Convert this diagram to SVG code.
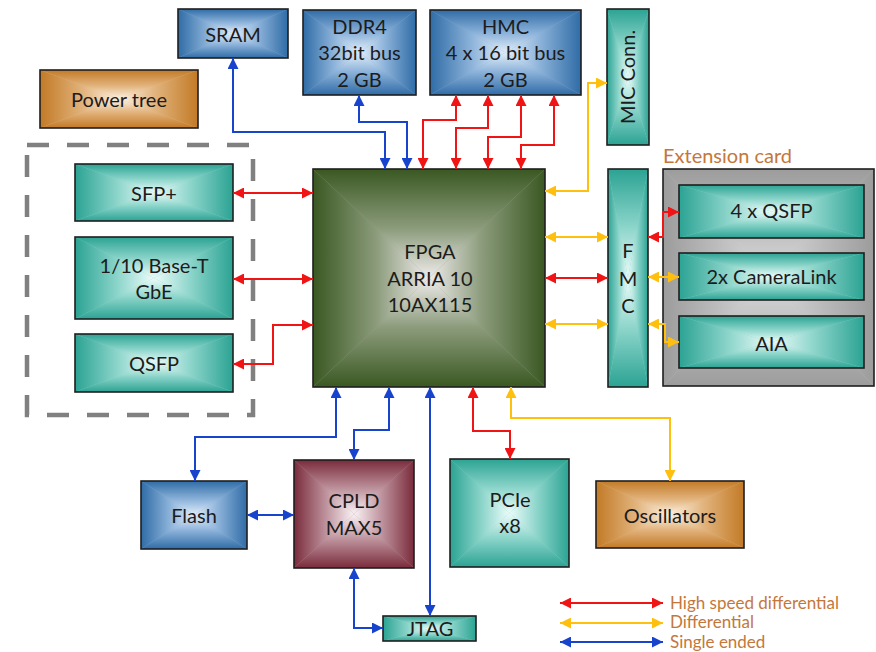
<svg xmlns="http://www.w3.org/2000/svg" width="876" height="652" viewBox="0 0 876 652">
<style>
.t{font-family:Lato,"Open Sans","DejaVu Sans",sans-serif;font-size:20px;fill:#1c1c1c;text-anchor:middle}
.lg{font-family:Lato,"Open Sans","DejaVu Sans",sans-serif;font-size:17px;fill:#c4773c}
.bd{fill:none;stroke:#1e1e1e;stroke-width:1.6}
.c{fill:none;stroke-width:2}
.r{stroke:#f01414;marker-start:url(#mr);marker-end:url(#mr)}
.y{stroke:#ffbf0f;marker-start:url(#my);marker-end:url(#my)}
.b{stroke:#1843cc;marker-start:url(#mb);marker-end:url(#mb)}
</style>
<defs>
<marker id="mr" viewBox="0 0 10 10" refX="10" refY="5" markerWidth="11" markerHeight="11" markerUnits="userSpaceOnUse" orient="auto-start-reverse"><path d="M0,0 L10,5 L0,10 z" fill="#f01414"/></marker>
<marker id="my" viewBox="0 0 10 10" refX="10" refY="5" markerWidth="11" markerHeight="11" markerUnits="userSpaceOnUse" orient="auto-start-reverse"><path d="M0,0 L10,5 L0,10 z" fill="#ffbf0f"/></marker>
<marker id="mb" viewBox="0 0 10 10" refX="10" refY="5" markerWidth="11" markerHeight="11" markerUnits="userSpaceOnUse" orient="auto-start-reverse"><path d="M0,0 L10,5 L0,10 z" fill="#1843cc"/></marker>
<!-- teal -->
<linearGradient id="teT" x1="0" y1="0" x2="0" y2="1"><stop offset="0" stop-color="#2ba393"/><stop offset="0.55" stop-color="#8fd6cc"/><stop offset="1" stop-color="#ecfcfa"/></linearGradient>
<linearGradient id="teB" href="#teT" x1="0" y1="1" x2="0" y2="0"/>
<linearGradient id="teL" href="#teT" x1="0" y1="0" x2="1" y2="0"/>
<linearGradient id="teR" href="#teT" x1="1" y1="0" x2="0" y2="0"/>
<!-- blue -->
<linearGradient id="blT" x1="0" y1="0" x2="0" y2="1"><stop offset="0" stop-color="#2f6ca6"/><stop offset="0.55" stop-color="#8db3da"/><stop offset="1" stop-color="#e2eefa"/></linearGradient>
<linearGradient id="blB" href="#blT" x1="0" y1="1" x2="0" y2="0"/>
<linearGradient id="blL" href="#blT" x1="0" y1="0" x2="1" y2="0"/>
<linearGradient id="blR" href="#blT" x1="1" y1="0" x2="0" y2="0"/>
<!-- green -->
<linearGradient id="grT" x1="0" y1="0" x2="0" y2="1"><stop offset="0" stop-color="#3a5822"/><stop offset="0.55" stop-color="#8c9c7c"/><stop offset="1" stop-color="#f0ecec"/></linearGradient>
<linearGradient id="grB" href="#grT" x1="0" y1="1" x2="0" y2="0"/>
<linearGradient id="grL" href="#grT" x1="0" y1="0" x2="1" y2="0"/>
<linearGradient id="grR" href="#grT" x1="1" y1="0" x2="0" y2="0"/>
<!-- maroon -->
<linearGradient id="maT" x1="0" y1="0" x2="0" y2="1"><stop offset="0" stop-color="#7a2b3b"/><stop offset="0.55" stop-color="#c096a0"/><stop offset="1" stop-color="#f9f2f4"/></linearGradient>
<linearGradient id="maB" href="#maT" x1="0" y1="1" x2="0" y2="0"/>
<linearGradient id="maL" href="#maT" x1="0" y1="0" x2="1" y2="0"/>
<linearGradient id="maR" href="#maT" x1="1" y1="0" x2="0" y2="0"/>
<!-- orange -->
<linearGradient id="orT" x1="0" y1="0" x2="0" y2="1"><stop offset="0" stop-color="#c27a26"/><stop offset="0.55" stop-color="#e2b47e"/><stop offset="1" stop-color="#fdf2e4"/></linearGradient>
<linearGradient id="orB" href="#orT" x1="0" y1="1" x2="0" y2="0"/>
<linearGradient id="orL" href="#orT" x1="0" y1="0" x2="1" y2="0"/>
<linearGradient id="orR" href="#orT" x1="1" y1="0" x2="0" y2="0"/>
<!-- gray -->
<linearGradient id="gyT" x1="0" y1="0" x2="0" y2="1"><stop offset="0" stop-color="#9c9c9c"/><stop offset="1" stop-color="#dadada"/></linearGradient>
<linearGradient id="gyB" href="#gyT" x1="0" y1="1" x2="0" y2="0"/>
<linearGradient id="gyL" href="#gyT" x1="0" y1="0" x2="1" y2="0"/>
<linearGradient id="gyR" href="#gyT" x1="1" y1="0" x2="0" y2="0"/>
</defs>
<rect width="876" height="652" fill="#ffffff"/>

<!-- dashed group -->
<rect id="ethernet-group" x="27" y="145" width="226" height="270" fill="none" stroke="#808080" stroke-width="4.5" stroke-dasharray="22 18"/>

<!-- extension card -->
<g id="extension-card">
<rect x="663" y="169" width="211" height="217" fill="#bbbbbb"/>
<polygon points="663,169 874,169 768.5,277.5" fill="url(#gyT)"/>
<polygon points="874,169 874,386 768.5,277.5" fill="url(#gyR)"/>
<polygon points="663,386 874,386 768.5,277.5" fill="url(#gyB)"/>
<polygon points="663,169 663,386 768.5,277.5" fill="url(#gyL)"/>
<rect class="bd" x="663" y="169" width="211" height="217"/>
<text class="lg" x="663" y="163" style="font-size:20px">Extension card</text>
</g>

<g id="sram">
<rect x="178" y="9" width="110" height="49" fill="#85abd0"/>
<polygon points="178,9 288,9 233,33.5" fill="url(#blT)"/>
<polygon points="288,9 288,58 233,33.5" fill="url(#blR)"/>
<polygon points="178,58 288,58 233,33.5" fill="url(#blB)"/>
<polygon points="178,9 178,58 233,33.5" fill="url(#blL)"/>
<rect class="bd" x="178" y="9" width="110" height="49"/>
<text class="t" x="233" y="42">SRAM</text>
</g>

<g id="power-tree">
<rect x="40" y="70" width="158" height="58" fill="#dfb582"/>
<polygon points="40,70 198,70 119,99" fill="url(#orT)"/>
<polygon points="198,70 198,128 119,99" fill="url(#orR)"/>
<polygon points="40,128 198,128 119,99" fill="url(#orB)"/>
<polygon points="40,70 40,128 119,99" fill="url(#orL)"/>
<rect class="bd" x="40" y="70" width="158" height="58"/>
<text class="t" x="119" y="107">Power tree</text>
</g>

<g id="ddr4">
<rect x="303" y="10" width="113" height="85" fill="#85abd0"/>
<polygon points="303,10 416,10 359.5,52.5" fill="url(#blT)"/>
<polygon points="416,10 416,95 359.5,52.5" fill="url(#blR)"/>
<polygon points="303,95 416,95 359.5,52.5" fill="url(#blB)"/>
<polygon points="303,10 303,95 359.5,52.5" fill="url(#blL)"/>
<rect class="bd" x="303" y="10" width="113" height="85"/>
<text class="t" x="359.5" y="34">DDR4</text>
<text class="t" x="359.5" y="60">32bit bus</text>
<text class="t" x="359.5" y="87">2 GB</text>
</g>

<g id="hmc">
<rect x="430" y="10" width="151" height="85" fill="#85abd0"/>
<polygon points="430,10 581,10 505.5,52.5" fill="url(#blT)"/>
<polygon points="581,10 581,95 505.5,52.5" fill="url(#blR)"/>
<polygon points="430,95 581,95 505.5,52.5" fill="url(#blB)"/>
<polygon points="430,10 430,95 505.5,52.5" fill="url(#blL)"/>
<rect class="bd" x="430" y="10" width="151" height="85"/>
<text class="t" x="505.5" y="34">HMC</text>
<text class="t" x="505.5" y="60">4 x 16 bit bus</text>
<text class="t" x="505.5" y="87">2 GB</text>
</g>

<g id="mic-conn">
<rect x="607" y="9" width="42" height="136" fill="#8ad0c6"/>
<polygon points="607,9 649,9 628,77" fill="url(#teT)"/>
<polygon points="649,9 649,145 628,77" fill="url(#teR)"/>
<polygon points="607,145 649,145 628,77" fill="url(#teB)"/>
<polygon points="607,9 607,145 628,77" fill="url(#teL)"/>
<rect class="bd" x="607" y="9" width="42" height="136"/>
<text class="t" x="0" y="0" transform="translate(635,77) rotate(-90)">MIC Conn.</text>
</g>

<g id="sfp-plus">
<rect x="75" y="164" width="158" height="57" fill="#8ad0c6"/>
<polygon points="75,164 233,164 154,192.5" fill="url(#teT)"/>
<polygon points="233,164 233,221 154,192.5" fill="url(#teR)"/>
<polygon points="75,221 233,221 154,192.5" fill="url(#teB)"/>
<polygon points="75,164 75,221 154,192.5" fill="url(#teL)"/>
<rect class="bd" x="75" y="164" width="158" height="57"/>
<text class="t" x="154" y="201">SFP+</text>
</g>

<g id="base-t">
<rect x="75" y="237" width="158" height="82" fill="#8ad0c6"/>
<polygon points="75,237 233,237 154,278" fill="url(#teT)"/>
<polygon points="233,237 233,319 154,278" fill="url(#teR)"/>
<polygon points="75,319 233,319 154,278" fill="url(#teB)"/>
<polygon points="75,237 75,319 154,278" fill="url(#teL)"/>
<rect class="bd" x="75" y="237" width="158" height="82"/>
<text class="t" x="154" y="273">1/10 Base-T</text>
<text class="t" x="154" y="299">GbE</text>
</g>

<g id="qsfp">
<rect x="75" y="334" width="158" height="58" fill="#8ad0c6"/>
<polygon points="75,334 233,334 154,363" fill="url(#teT)"/>
<polygon points="233,334 233,392 154,363" fill="url(#teR)"/>
<polygon points="75,392 233,392 154,363" fill="url(#teB)"/>
<polygon points="75,334 75,392 154,363" fill="url(#teL)"/>
<rect class="bd" x="75" y="334" width="158" height="58"/>
<text class="t" x="154" y="371">QSFP</text>
</g>

<g id="fpga">
<rect x="313" y="169" width="232" height="218" fill="#93a385"/>
<polygon points="313,169 545,169 429,278" fill="url(#grT)"/>
<polygon points="545,169 545,387 429,278" fill="url(#grR)"/>
<polygon points="313,387 545,387 429,278" fill="url(#grB)"/>
<polygon points="313,169 313,387 429,278" fill="url(#grL)"/>
<rect class="bd" x="313" y="169" width="232" height="218"/>
<text class="t" x="430" y="259">FPGA</text>
<text class="t" x="430" y="286">ARRIA 10</text>
<text class="t" x="430" y="312">10AX115</text>
</g>

<g id="fmc">
<rect x="608" y="169" width="40" height="218" fill="#8ad0c6"/>
<polygon points="608,169 648,169 628,278" fill="url(#teT)"/>
<polygon points="648,169 648,387 628,278" fill="url(#teR)"/>
<polygon points="608,387 648,387 628,278" fill="url(#teB)"/>
<polygon points="608,169 608,387 628,278" fill="url(#teL)"/>
<rect class="bd" x="608" y="169" width="40" height="218"/>
<text class="t" x="628" y="258">F</text>
<text class="t" x="628" y="286">M</text>
<text class="t" x="628" y="313">C</text>
</g>

<g id="qsfp4">
<rect x="679" y="185" width="185" height="53" fill="#8ad0c6"/>
<polygon points="679,185 864,185 771.5,211.5" fill="url(#teT)"/>
<polygon points="864,185 864,238 771.5,211.5" fill="url(#teR)"/>
<polygon points="679,238 864,238 771.5,211.5" fill="url(#teB)"/>
<polygon points="679,185 679,238 771.5,211.5" fill="url(#teL)"/>
<rect class="bd" x="679" y="185" width="185" height="53"/>
<text class="t" x="771.5" y="218">4 x QSFP</text>
</g>

<g id="cameralink">
<rect x="679" y="253" width="185" height="47" fill="#8ad0c6"/>
<polygon points="679,253 864,253 771.5,276.5" fill="url(#teT)"/>
<polygon points="864,253 864,300 771.5,276.5" fill="url(#teR)"/>
<polygon points="679,300 864,300 771.5,276.5" fill="url(#teB)"/>
<polygon points="679,253 679,300 771.5,276.5" fill="url(#teL)"/>
<rect class="bd" x="679" y="253" width="185" height="47"/>
<text class="t" x="771.5" y="284">2x CameraLink</text>
</g>

<g id="aia">
<rect x="679" y="316" width="185" height="52" fill="#8ad0c6"/>
<polygon points="679,316 864,316 771.5,342" fill="url(#teT)"/>
<polygon points="864,316 864,368 771.5,342" fill="url(#teR)"/>
<polygon points="679,368 864,368 771.5,342" fill="url(#teB)"/>
<polygon points="679,316 679,368 771.5,342" fill="url(#teL)"/>
<rect class="bd" x="679" y="316" width="185" height="52"/>
<text class="t" x="771.5" y="351">AIA</text>
</g>

<g id="flash">
<rect x="141" y="481" width="106" height="68" fill="#85abd0"/>
<polygon points="141,481 247,481 194,515" fill="url(#blT)"/>
<polygon points="247,481 247,549 194,515" fill="url(#blR)"/>
<polygon points="141,549 247,549 194,515" fill="url(#blB)"/>
<polygon points="141,481 141,549 194,515" fill="url(#blL)"/>
<rect class="bd" x="141" y="481" width="106" height="68"/>
<text class="t" x="194" y="523">Flash</text>
</g>

<g id="cpld">
<rect x="294" y="460" width="120" height="108" fill="#b88d96"/>
<polygon points="294,460 414,460 354,514" fill="url(#maT)"/>
<polygon points="414,460 414,568 354,514" fill="url(#maR)"/>
<polygon points="294,568 414,568 354,514" fill="url(#maB)"/>
<polygon points="294,460 294,568 354,514" fill="url(#maL)"/>
<rect class="bd" x="294" y="460" width="120" height="108"/>
<text class="t" x="354" y="508">CPLD</text>
<text class="t" x="354" y="535">MAX5</text>
</g>

<g id="jtag">
<rect x="383" y="616" width="93" height="25" fill="#8ad0c6"/>
<polygon points="383,616 476,616 429.5,628.5" fill="url(#teT)"/>
<polygon points="476,616 476,641 429.5,628.5" fill="url(#teR)"/>
<polygon points="383,641 476,641 429.5,628.5" fill="url(#teB)"/>
<polygon points="383,616 383,641 429.5,628.5" fill="url(#teL)"/>
<rect class="bd" x="383" y="616" width="93" height="25"/>
<text class="t" x="430" y="636">JTAG</text>
</g>

<g id="pcie">
<rect x="450" y="459" width="119" height="108" fill="#8ad0c6"/>
<polygon points="450,459 569,459 509.5,513" fill="url(#teT)"/>
<polygon points="569,459 569,567 509.5,513" fill="url(#teR)"/>
<polygon points="450,567 569,567 509.5,513" fill="url(#teB)"/>
<polygon points="450,459 450,567 509.5,513" fill="url(#teL)"/>
<rect class="bd" x="450" y="459" width="119" height="108"/>
<text class="t" x="510" y="507">PCIe</text>
<text class="t" x="510" y="533">x8</text>
</g>

<g id="oscillators">
<rect x="596" y="481" width="148" height="67" fill="#dfb582"/>
<polygon points="596,481 744,481 670,514.5" fill="url(#orT)"/>
<polygon points="744,481 744,548 670,514.5" fill="url(#orR)"/>
<polygon points="596,548 744,548 670,514.5" fill="url(#orB)"/>
<polygon points="596,481 596,548 670,514.5" fill="url(#orL)"/>
<rect class="bd" x="596" y="481" width="148" height="67"/>
<text class="t" x="670" y="523">Oscillators</text>
</g>

<g id="connectors">
<path class="c r" d="M233,193 H313"/>
<path class="c r" d="M233,279 H313"/>
<path class="c r" d="M233,364 H273 V325 H313"/>
<path class="c r" d="M423,169 V120 H456 V95"/>
<path class="c r" d="M456,169 V128 H488 V95"/>
<path class="c r" d="M488,169 V137 H521 V95"/>
<path class="c r" d="M521,169 V145 H554 V95"/>
<path class="c r" d="M545,278 H608"/>
<path class="c r" d="M648,237 H663 V212 H679"/>
<path class="c r" d="M473,387 V431 H510 V459"/>
<path class="c y" d="M545,191 H588 V83 H607"/>
<path class="c y" d="M545,237 H608"/>
<path class="c y" d="M545,324 H608"/>
<path class="c y" d="M648,277 H679"/>
<path class="c y" d="M648,324 H665 V342 H679"/>
<path class="c y" d="M511,387 V418 H670 V481"/>
<path class="c b" d="M233,58 V132 H385 V169"/>
<path class="c b" d="M359,95 V122 H407 V169"/>
<path class="c b" d="M336,387 V437 H195 V481"/>
<path class="c b" d="M389,387 V430 H354 V460"/>
<path class="c b" d="M247,515 H294"/>
<path class="c b" d="M354,568 V628 H383"/>
<path class="c b" d="M430,387 V616"/>
</g>

<g id="legend">
<path class="c r" d="M560,603 H663"/>
<path class="c y" d="M560,623 H663"/>
<path class="c b" d="M560,642 H663"/>
<text class="lg" x="670" y="609">High speed differential</text>
<text class="lg" x="670" y="628">Differential</text>
<text class="lg" x="670" y="648">Single ended</text>
</g>
</svg>
